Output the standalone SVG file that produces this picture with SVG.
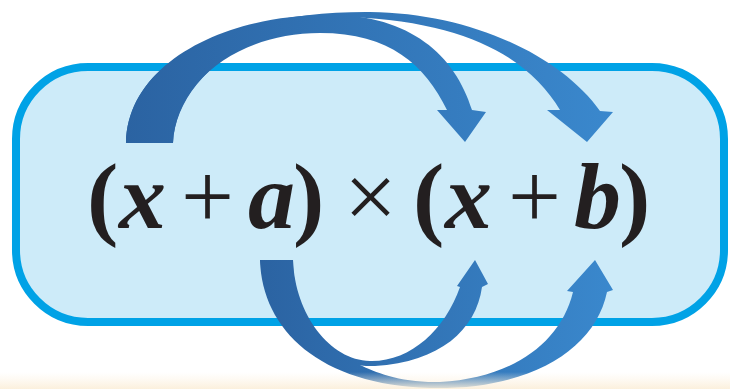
<svg xmlns="http://www.w3.org/2000/svg" width="730" height="389" viewBox="0 0 730 389">
  <defs>
    <linearGradient id="gTop" gradientUnits="userSpaceOnUse" x1="126" y1="0" x2="613" y2="0">
      <stop offset="0" stop-color="#2b63a2"/>
      <stop offset="1" stop-color="#3a88cd"/>
    </linearGradient>
    <linearGradient id="gBot" gradientUnits="userSpaceOnUse" x1="260" y1="0" x2="613" y2="0">
      <stop offset="0" stop-color="#2b63a2"/>
      <stop offset="1" stop-color="#3a88cd"/>
    </linearGradient>
    <linearGradient id="gFloor" x1="0" y1="0" x2="0" y2="1">
      <stop offset="0" stop-color="#fdf3e4" stop-opacity="0"/>
      <stop offset="1" stop-color="#fbeed8" stop-opacity="0.9"/>
    </linearGradient>
  </defs>
  <style>
    .box { fill: #cdebf9; stroke: #00a2e6; stroke-width: 8; }
    .expr { font-family: "Liberation Serif", "Times New Roman", serif; font-size: 94px; fill: #231f20; }
    .b { font-weight: bold; }
    .bi { font-weight: bold; font-style: italic; }
  </style>
  <rect x="0" y="0" width="730" height="389" fill="#ffffff"/>

  <g id="box">
    <rect class="box" x="16" y="67" width="708" height="255" rx="72" ry="72"/>
  </g>

  <g id="connectors">
    <path id="top-to-b" fill="url(#gTop)" d="M 126,143 C 128,55 240,11 370,12 C 470,13 560,55 600,111 L 613,112 L 587,142 L 547,110 L 560,110 C 530,60 470,22 350,17 C 250,20 176,80 173,143 Z"/>
    <path id="top-to-x" fill="url(#gTop)" d="M 126,143 C 128,60 230,14 330,15 C 410,15 455,55 472,110 L 486,112 L 465,142 L 437,110 L 447,110 C 425,65 390,33 320,33 C 240,33 176,80 173,143 Z"/>
    <path id="bot-to-b" fill="url(#gBot)" d="M 260,260 C 262,330 320,385 430,388 C 530,390 595,350 607,292 L 613,290 L 595,260 L 567,291 L 573,292 C 560,345 510,378 440,382 C 400,383 375,372 360,365 C 310,345 293,300 293,260 Z"/>
    <path id="bot-to-x" fill="url(#gBot)" d="M 260,260 L 293,260 C 295,315 330,360 370,361 C 410,362 445,330 460,287 L 457,286 L 475,260 L 488,284 L 482,287 C 476,330 440,362 375,366 C 320,368 270,325 260,260 Z"/>
  </g>

  <g id="expression">
    <text class="expr" y="228"><tspan class="b" x="87">(</tspan><tspan class="bi" x="119">x</tspan><tspan x="181">+</tspan><tspan class="bi" x="248">a</tspan><tspan class="b" x="293">)</tspan><tspan x="344">×</tspan><tspan class="b" x="413">(</tspan><tspan class="bi" x="445">x</tspan><tspan x="508">+</tspan><tspan class="bi" x="574">b</tspan><tspan class="b" x="619">)</tspan></text>
  </g>

  <rect x="0" y="372" width="730" height="17" fill="url(#gFloor)"/>
</svg>
